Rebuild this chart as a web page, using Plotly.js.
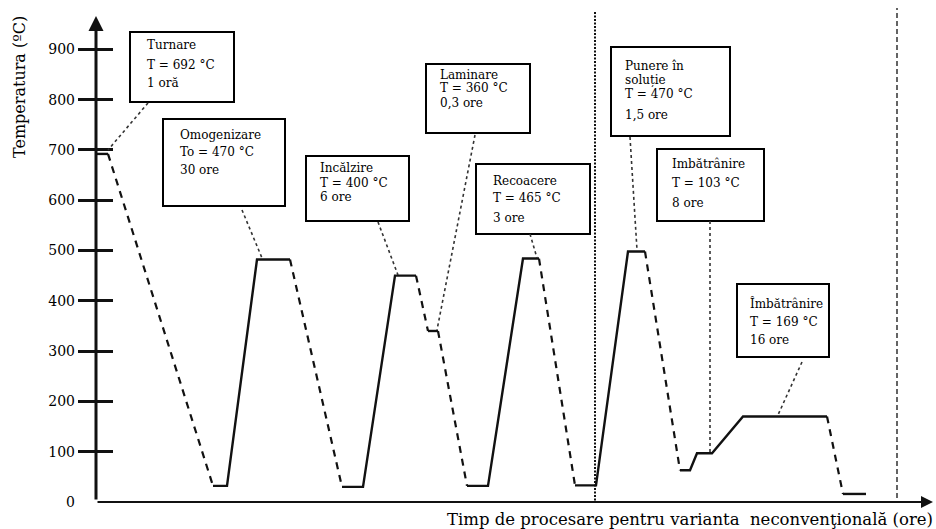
<!DOCTYPE html>
<html>
<head>
<meta charset="utf-8">
<script src="https://cdn.plot.ly/plotly-3.0.1.min.js"></script>
<style>html,body{margin:0;padding:0;background:#fff;}#chart{width:936px;height:529px;}</style>
</head>
<body>
<div id="chart"></div>
<script>
// ---- data (schematic time units, temperature in °C) ----
const timeUnits = [1,12,117,131,161,194,246,267,299,320,332,342,371,392,427,443,479,500,532,549,584,594,601,616,647,731,747,770];
const temperature = [692,692,32,32,482,482,30,30,450,450,340,340,32,32,484,484,33,33,498,498,63,63,97,97,170,170,16,16];
const yTickValues = [0,100,200,300,400,500,600,700,800,900];
const yTickLabels = ["0","100","200","300","400","500","600","700","800","900"];
const phaseBoundaries = [499, 801];
const stageTitles = ["Turnare","Omogenizare","Incălzire","Laminare","Recoacere","Punere în<br>soluție","Imbătrânire","Îmbătrânire"];
const stageTemps = ["T = 692 °C","To = 470 °C","T = 400 °C","T = 360 °C","T = 465 °C","T = 470 °C","T = 103 °C","T = 169 °C"];
const stageDurations = ["1 oră","30 ore","6 ore","0,3 ore","3 ore","1,5 ore","8 ore","16 ore"];
const xTitle = "Timp de procesare pentru varianta  neconvenţională (ore)";
const yTitle = "Temperatura (ºC)";

// ---- layout helpers (pixel -> data) ----
const L = 96, B = 27, H = 529, W = 936;
const YMAX = 998, XMAX = W - L;
const plotH = H - B;
const X = px => px - L;
const Y = py => (plotH - py) * YMAX / plotH;

const FONT = "DejaVu Serif";
const traces = [];
// build runs: cooling (falling temperature) dashed, others solid
let run = null;
for (let i = 0; i < timeUnits.length - 1; i++) {
  const cooling = temperature[i+1] < temperature[i];
  if (!run || run.cooling !== cooling) {
    if (run) traces.push(run);
    run = {cooling, x:[timeUnits[i]], y:[temperature[i]]};
  }
  run.x.push(timeUnits[i+1]); run.y.push(temperature[i+1]);
}
traces.push(run);
const data = traces.map(r => ({
  type:'scatter', mode:'lines', x:r.x, y:r.y, hoverinfo:'skip', showlegend:false,
  line:{color:'#111', width: r.cooling ? 2.2 : 2.4, dash: r.cooling ? '7px,6px' : 'solid'},
  cliponaxis:false
}));
// dummy traces so tick-only overlay axes are drawn
data.push({type:'scatter', mode:'markers', x:[0], y:[0], yaxis:'y2', marker:{opacity:0}, hoverinfo:'skip', showlegend:false});
data.push({type:'scatter', mode:'markers', x:[0], y:[0], yaxis:'y3', marker:{opacity:0}, hoverinfo:'skip', showlegend:false});

// boxes (pixel geometry)
const boxes = [
  {r:[130,32,234,102], tl:145, ly:[45,65,83], ld:[148,103,108,150]},
  {r:[163,119,285,206], tl:178, ly:[135,152,170], ld:[242,210,262,258]},
  {r:[306,156,409,221], tl:318, ly:[168,183,197], ld:[378,222,398,275]},
  {r:[426,64,530,133], tl:438, ly:[75,88,103], ld:[475,135,437,330]},
  {r:[476,164,590,234], tl:491, ly:[181,198,218], ld:[530,234,537,258]},
  {r:[611,47,730,136], tl:623, ly:[66,80,94,115], ld:[630,137,637,250]},
  {r:[657,149,764,221], tl:670, ly:[164,183,203], ld:[710,221,710,452]},
  {r:[737,284,829,357], tl:748, ly:[303,322,340], ld:[802,362,778,415]}
];
const shapes = [], annotations = [];
boxes.forEach((b,i) => {
  shapes.push({type:'rect', xref:'x', yref:'y', x0:X(b.r[0]), x1:X(b.r[2]), y0:Y(b.r[3]), y1:Y(b.r[1]),
    line:{color:'#000', width:2}, fillcolor:'#fff', layer:'above'});
  shapes.push({type:'line', xref:'x', yref:'y', x0:X(b.ld[0]), y0:Y(b.ld[1]), x1:X(b.ld[2]), y1:Y(b.ld[3]),
    line:{color:'#333', width:1.6, dash:'dot'}});
  const texts = stageTitles[i].split('<br>').concat([stageTemps[i], stageDurations[i]]);
  texts.forEach((t,j) => {
    annotations.push({xref:'x', yref:'y', x:X(b.tl), y:Y(b.ly[j]), text:t, showarrow:false,
      xanchor:'left', yanchor:'middle', align:'left', font:{family:FONT, size:12, color:'#000'}});
  });
});
// vertical phase separators
phaseBoundaries.forEach((xb,i) => {
  shapes.push({type:'line', xref:'x', yref:'y', x0:xb, x1:xb, y0: i===0 ? Y(504) : Y(498), y1: i===0 ? Y(12) : Y(8),
    line:{color:'#111', width: i===0 ? 2 : 1.3, dash: i===0 ? '2px,1.5px' : '5px,3px'}});
});
// axis arrows
annotations.push({xref:'paper', yref:'paper', x:0, y:Y(16)/YMAX, ax:0, ay:485, axref:'pixel', ayref:'pixel',
  showarrow:true, arrowhead:2, arrowsize:1, arrowwidth:3, arrowcolor:'#111', text:''});
annotations.push({xref:'paper', yref:'paper', x:(933-L)/XMAX, y:0, ax:-837, ay:0,
  showarrow:true, arrowhead:2, arrowsize:1.2, arrowwidth:2, arrowcolor:'#111', text:''});
// axis titles
annotations.push({xref:'paper', yref:'paper', x:(935-L)/XMAX, y:-(519-plotH)/plotH, xanchor:'right', yanchor:'middle',
  text:xTitle, showarrow:false, font:{family:FONT, size:16.5, color:'#000'}});
annotations.push({xref:'paper', yref:'paper', x:(20-L)/XMAX, y:Y(87)/YMAX, xanchor:'center', yanchor:'middle',
  text:yTitle, textangle:-90, showarrow:false, font:{family:FONT, size:16, color:'#000'}});

const tickAxisBase = {range:[0,YMAX], tickvals:yTickValues.slice(1), showticklabels:false, showgrid:false,
  zeroline:false, showline:false, overlaying:'y', ticklen:17, tickwidth:3, tickcolor:'#111', fixedrange:true};
const layout = {
  width:W, height:H, margin:{l:L, r:0, t:0, b:B}, paper_bgcolor:'#fff', plot_bgcolor:'rgba(0,0,0,0)',
  showlegend:false,
  xaxis:{range:[0,XMAX], showgrid:false, zeroline:false, showline:false, showticklabels:false, ticks:'', fixedrange:true},
  yaxis:{range:[0,YMAX], tickvals:yTickValues, ticktext:yTickLabels, ticks:'', showgrid:false, zeroline:false,
    showline:false, ticklabelstandoff:20, tickfont:{family:FONT, size:14, color:'#000'}, fixedrange:true},
  yaxis2:Object.assign({}, tickAxisBase, {ticks:'outside'}),
  yaxis3:Object.assign({}, tickAxisBase, {ticks:'inside'}),
  shapes, annotations
};
Plotly.newPlot('chart', data, layout, {staticPlot:true, displayModeBar:false});
</script>
</body>
</html>
